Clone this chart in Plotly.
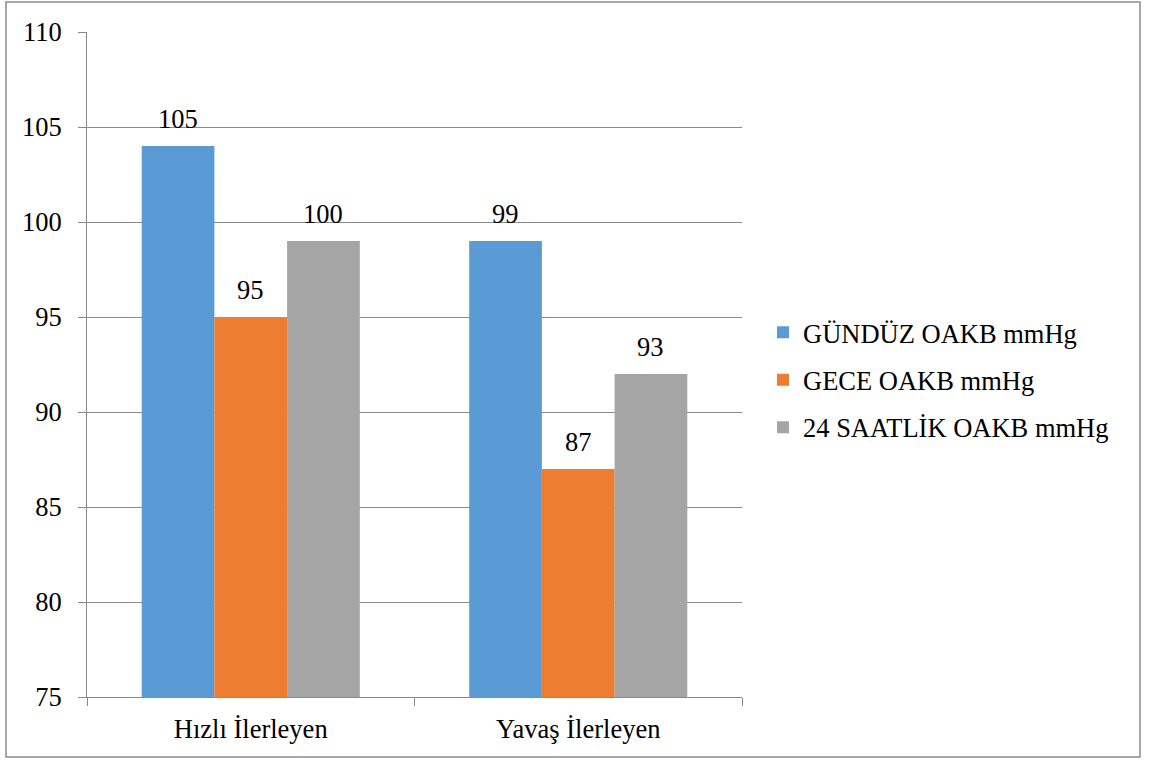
import plotly.graph_objects as go

categories = ["Hızlı İlerleyen", "Yavaş İlerleyen"]
series_names = ["GÜNDÜZ OAKB mmHg", "GECE OAKB mmHg", "24 SAATLİK OAKB mmHg"]
gunduz = [104, 99]
gece = [95, 87]
saat24 = [99, 92]
gunduz_labels = ["105", "99"]
gece_labels = ["95", "87"]
saat24_labels = ["100", "93"]
y_ticks = [75, 80, 85, 90, 95, 100, 105, 110]

colors = ["#5B9BD5", "#ED7D31", "#A5A5A5"]
series_values = [gunduz, gece, saat24]
series_labels = [gunduz_labels, gece_labels, saat24_labels]

FONT = "Liberation Serif"
FS = 26.5
bargap = 0.334

fig = go.Figure()
for i, (name, vals) in enumerate(zip(series_names, series_values)):
    fig.add_trace(go.Bar(
        x=categories, y=vals, name=name, marker_color=colors[i],
        marker_line_width=0, legendgroup=name, hoverinfo="skip",
    ))

# data labels above bars
n = len(series_values)
bw = (1 - bargap) / n
for i, (vals, labs) in enumerate(zip(series_values, series_labels)):
    for c, (v, t) in enumerate(zip(vals, labs)):
        fig.add_annotation(
            x=c + (i - (n - 1) / 2) * bw, y=v, xref="x", yref="y",
            text=t, showarrow=False, yanchor="bottom", yshift=10,
            font=dict(family=FONT, size=FS, color="black"),
        )

L, R, T, B = 87, 742, 32, 697
W, H = 1150, 762
pw, ph = R - L, B - T

# outer border of the chart
fig.add_shape(
    type="rect", xref="paper", yref="paper",
    x0=(6 - L) / pw, x1=(1140 - L) / pw,
    y0=(B - 757) / ph, y1=(B - 2) / ph,
    line=dict(color="#8A8A8A", width=1.5), layer="below",
)

fig.update_layout(
    width=W, height=H,
    margin=dict(l=L, r=W - R, t=T, b=H - B),
    paper_bgcolor="white", plot_bgcolor="white",
    barmode="group", bargap=bargap, bargroupgap=0,
    font=dict(family=FONT, size=FS, color="black"),
    showlegend=True,
    legend=dict(
        x=(763 - L) / pw, xanchor="left",
        y=(B - 380) / ph, yanchor="middle",
        font=dict(family=FONT, size=FS, color="black"),
        tracegroupgap=10, bgcolor="rgba(0,0,0,0)",
    ),
    xaxis=dict(
        showline=True, linecolor="#8A8A8A", linewidth=1,
        ticks="outside", tickson="boundaries", ticklen=8, tickcolor="#8A8A8A",
        showgrid=False, tickfont=dict(family=FONT, size=FS, color="black"),
        ticklabelstandoff=8, fixedrange=True,
    ),
    yaxis=dict(
        range=[75, 110], tickvals=y_ticks, ticktext=[str(v) for v in y_ticks],
        showline=True, linecolor="#8A8A8A", linewidth=1,
        ticks="outside", ticklen=8, tickcolor="#8A8A8A",
        showgrid=True, gridcolor="#8A8A8A", gridwidth=1,
        zeroline=False, tickfont=dict(family=FONT, size=FS, color="black"),
        ticklabelstandoff=11, fixedrange=True,
    ),
)

fig.write_html("out.html")
